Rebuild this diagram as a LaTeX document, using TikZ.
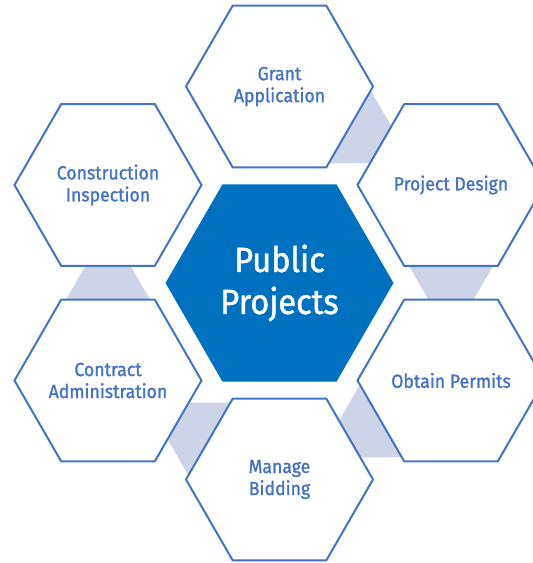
\documentclass[tikz,border=0pt]{standalone}
\usepackage{fontspec}
\setmainfont{Fira Sans}[FakeStretch=0.93,FakeBold=1.3]
\usetikzlibrary{shapes.geometric,calc,backgrounds}
\definecolor{hexblue}{HTML}{4472C4}
\definecolor{coreblue}{HTML}{0070C0}
\definecolor{linkgray}{HTML}{CDD4E8}
\begin{document}
\begin{tikzpicture}[x=1pt,y=-1pt,
  hexbox/.style={regular polygon, regular polygon sides=6, minimum size=187pt,
    inner sep=-30pt, outer sep=0pt, draw=hexblue, line width=2pt, fill=white,
    text=hexblue, font=\fontsize{19}{22}\selectfont, align=center},
  corehex/.style={regular polygon, regular polygon sides=6, minimum size=228pt,
    inner sep=-30pt, outer sep=0pt, fill=coreblue, text=white,
    font=\fontsize{35}{42}\selectfont, align=center},
  linkshape/.style={fill=linkgray}]
\clip (0,0) rectangle (533,563);
\node[corehex] (core) at (279.5,283) {Public\\Projects};
\node[hexbox] (grant) at (279.5,86.5) {Grant\\Application};
\node[hexbox] (design) at (451,185) {Project Design};
\node[hexbox] (permits) at (451,380.5) {Obtain Permits};
\node[hexbox] (bidding) at (279.5,479.5) {Manage\\Bidding};
\node[hexbox] (contract) at (108,380.5) {Contract\\Administration};
\node[hexbox] (inspection) at (108,185) {Construction\\Inspection};
\begin{scope}[on background layer]
\foreach \s/\t in {grant/design, design/permits, permits/bidding, bidding/contract, contract/inspection} {
  \coordinate (m) at ($(\s.center)!81pt!(\t.center)$);
  \fill[linkshape] ($(m)!42pt!90:(\t.center)$) -- ($(m)!42pt!-90:(\t.center)$)
     -- ($(\s.center)!153.7pt!(\t.center)$) -- cycle;
}
\end{scope}
\end{tikzpicture}
\end{document}
